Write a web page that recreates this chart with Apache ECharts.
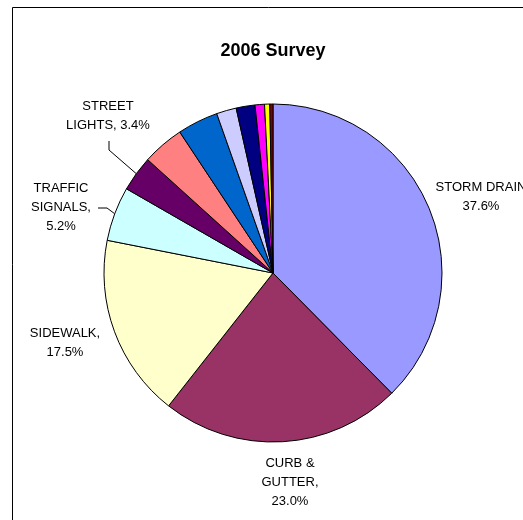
<!DOCTYPE html>
<html>
<head>
<meta charset="utf-8">
<script src="https://cdn.jsdelivr.net/npm/echarts@6/dist/echarts.min.js"></script>
<style>
html,body{margin:0;padding:0;background:#fff;}
#chart{width:523px;height:520px;}
</style>
</head>
<body>
<div id="chart"></div>
<script>
const categories = ['STORM DRAIN', 'CURB & GUTTER', 'SIDEWALK', 'TRAFFIC SIGNALS', 'STREET LIGHTS', 'OTHER 1', 'OTHER 2', 'OTHER 3', 'OTHER 4', 'OTHER 5', 'OTHER 6', 'OTHER 7'];
const values = [37.6, 23.0, 17.5, 5.2, 3.4, 4.0, 3.9, 1.9, 1.8, 0.9, 0.5, 0.3];
const colors = ['#9999FF', '#993366', '#FFFFCC', '#CCFFFF', '#660066', '#FF8080', '#0066CC', '#CCCCFF', '#000080', '#FF00FF', '#FFFF00', '#800000'];
const labelTexts = ['STORM DRAIN\n37.6%', 'CURB &\nGUTTER,\n23.0%', 'SIDEWALK,\n17.5%', 'TRAFFIC\nSIGNALS,\n5.2%', 'STREET\nLIGHTS, 3.4%'];

const labelAnchor = {0: [481, 197], 1: [290, 482], 2: [65, 343], 3: [61, 207], 4: [108, 116]};
const leaderMid = {3: [[98, 208], [107, 208]], 4: [[109, 141], [109, 150]]};

const chart = echarts.init(document.getElementById('chart'), null, {renderer: 'canvas'});

const data = categories.map((c, i) => ({
  name: c,
  value: values[i],
  itemStyle: {color: colors[i]},
  label: {show: i < labelTexts.length, formatter: labelTexts[i] || ''},
  labelLine: {show: i === 3 || i === 4}
}));

chart.setOption({
  animation: false,
  title: {
    text: '2006 Survey',
    left: 268, top: 37,
    textAlign: 'center',
    textStyle: {fontFamily: 'Liberation Sans', fontSize: 18, fontWeight: 'bold', color: '#000'}
  },
  graphic: [{
    type: 'rect',
    shape: {x: 12.5, y: 7.5, width: 700, height: 700},
    style: {fill: 'none', stroke: '#000', lineWidth: 1},
    silent: true, z: -1
  }],
  series: [{
    type: 'pie',
    center: [273, 273],
    radius: [0, 169],
    startAngle: 90,
    clockwise: true,
    data: data,
    itemStyle: {borderColor: '#000', borderWidth: 1},
    label: {
      position: 'outside',
      fontFamily: 'Liberation Sans',
      fontSize: 13,
      color: '#000',
      lineHeight: 19,
      align: 'center',
      overflow: 'none'
    },
    labelLine: {lineStyle: {color: '#000', width: 1}, length: 10, length2: 10},
    labelLayout: function (params) {
      const i = params.dataIndex;
      if (!labelAnchor[i]) return {};
      const a = labelAnchor[i];
      const res = {
        x: a[0], y: a[1],
        align: 'center', verticalAlign: 'middle',
        draggable: false
      };
      if (leaderMid[i] && params.labelLinePoints) {
        const edge = params.labelLinePoints[0];
        res.labelLinePoints = [leaderMid[i][0], leaderMid[i][1], edge];
      }
      return res;
    }
  }]
});
</script>
</body>
</html>
